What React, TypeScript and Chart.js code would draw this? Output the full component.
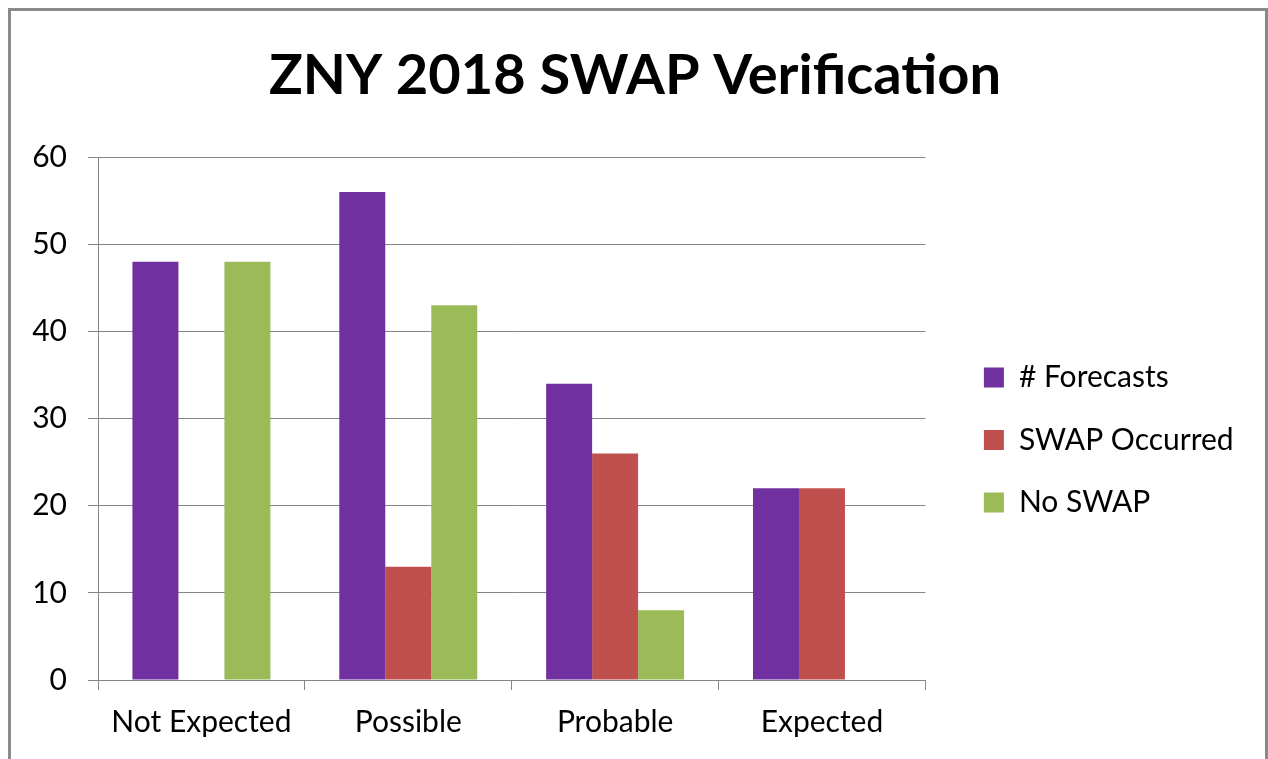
import React, { useEffect, useRef } from 'react';
import { Chart, registerables } from 'chart.js';
Chart.register(...registerables);

const categories = ['Not Expected', 'Possible', 'Probable', 'Expected'];
const forecasts = [48, 56, 34, 22];
const swapOccurred = [0, 13, 26, 22];
const noSwap = [48, 43, 8, 0];
const seriesNames = ['# Forecasts', 'SWAP Occurred', 'No SWAP'];
const seriesColors = ['#7030A0', '#C0504D', '#9BBB59'];
const titleText = 'ZNY 2018 SWAP Verification';
const yMin = 0;
const yMax = 60;
const yStep = 10;

const FONT = 'Lato';
const GRID = '#868686';
const LABEL_SIZE = 30;

export default function App() {
  const ref = useRef<HTMLCanvasElement>(null);
  useEffect(() => {
    const canvas = ref.current!;
    const ctx = canvas.getContext('2d')!;
    ctx.font = `${LABEL_SIZE}px ${FONT}`;
    const widths = seriesNames.map((n) => ctx.measureText(n).width);
    const maxW = Math.max(...widths);
    const longest = seriesNames[widths.indexOf(maxW)];
    const spaceW = ctx.measureText(' ').width || 6;
    const padRight = 6;
    const canvasW = 1254;
    const legendRight = canvasW - padRight;
    const boxLeftTarget = 969;
    const boxW = 20;
    const gap = LABEL_SIZE / 2;
    const targetTextW = legendRight - 10 - boxW - gap - boxLeftTarget;
    const nSpaces = Math.max(0, Math.floor((targetTextW - maxW) / spaceW));
    const padded = longest + ' '.repeat(nSpaces);
    const paddedW = ctx.measureText(padded).width;
    const legendPad = 32.5;
    const legendW = legendPad + boxW + gap + paddedW + 10;
    const plotRight = 914;
    const y2W = Math.max(0, Math.round(legendRight - legendW - plotRight));

    const chart = new Chart(canvas, {
      type: 'bar',
      data: {
        labels: categories,
        datasets: [
          { label: seriesNames[0], data: forecasts, backgroundColor: seriesColors[0], borderWidth: 0 },
          { label: seriesNames[1], data: swapOccurred, backgroundColor: seriesColors[1], borderWidth: 0 },
          { label: seriesNames[2], data: noSwap, backgroundColor: seriesColors[2], borderWidth: 0 },
        ],
      },
      options: {
        responsive: false,
        animation: false,
        devicePixelRatio: 1,
        layout: { padding: { top: 0, left: 0, right: padRight, bottom: 0 } },
        datasets: { bar: { categoryPercentage: 0.667, barPercentage: 1.0 } },
        scales: {
          x: {
            afterFit: (s: any) => { s.height = 80; },
            grid: { offset: true, drawOnChartArea: false, drawTicks: true, tickLength: 10, color: GRID, lineWidth: 1 },
            border: { display: true, color: GRID, width: 1 },
            ticks: { font: { family: FONT, size: LABEL_SIZE }, color: '#000', padding: 14, maxRotation: 0 },
          },
          y: {
            min: yMin,
            max: yMax,
            afterFit: (s: any) => { s.width = 87; },
            grid: { color: GRID, lineWidth: 1, drawTicks: true, tickLength: 10 },
            border: { display: true, color: GRID, width: 1 },
            ticks: { stepSize: yStep, font: { family: FONT, size: LABEL_SIZE }, color: '#000', padding: 21 },
          },
          y2: {
            position: 'right',
            display: true,
            afterFit: (s: any) => { s.width = y2W; },
            grid: { display: false, drawTicks: false },
            border: { display: false },
            ticks: { display: false },
          },
        },
        plugins: {
          title: {
            display: true,
            text: titleText,
            font: { family: FONT, size: 56, weight: 'bold' },
            color: '#000',
            padding: { top: 31, bottom: 48 },
          },
          legend: {
            position: 'right',
            align: 'start',
            maxWidth: 500,
            title: { display: true, text: ' ', font: { size: 10 }, padding: { top: 307, bottom: 0 } },
            labels: {
              font: { family: FONT, size: LABEL_SIZE },
              color: '#000',
              boxWidth: boxW,
              boxHeight: 20,
              padding: legendPad,
              generateLabels: (c: any) =>
                (Chart.defaults.plugins.legend.labels as any)
                  .generateLabels(c)
                  .map((it: any) => (it.text === longest ? { ...it, text: padded } : it)),
            },
          },
          tooltip: { enabled: false },
        },
      } as any,
    });
    return () => chart.destroy();
  }, []);

  return (
    <div
      style={{
        position: 'fixed',
        left: 8,
        top: 8,
        width: 1260,
        height: 770,
        border: '3px solid #8a8a8a',
        boxSizing: 'border-box',
        background: '#fff',
      }}
    >
      <canvas ref={ref} width={1254} height={749} style={{ display: 'block', width: 1254, height: 749 }} />
    </div>
  );
}
